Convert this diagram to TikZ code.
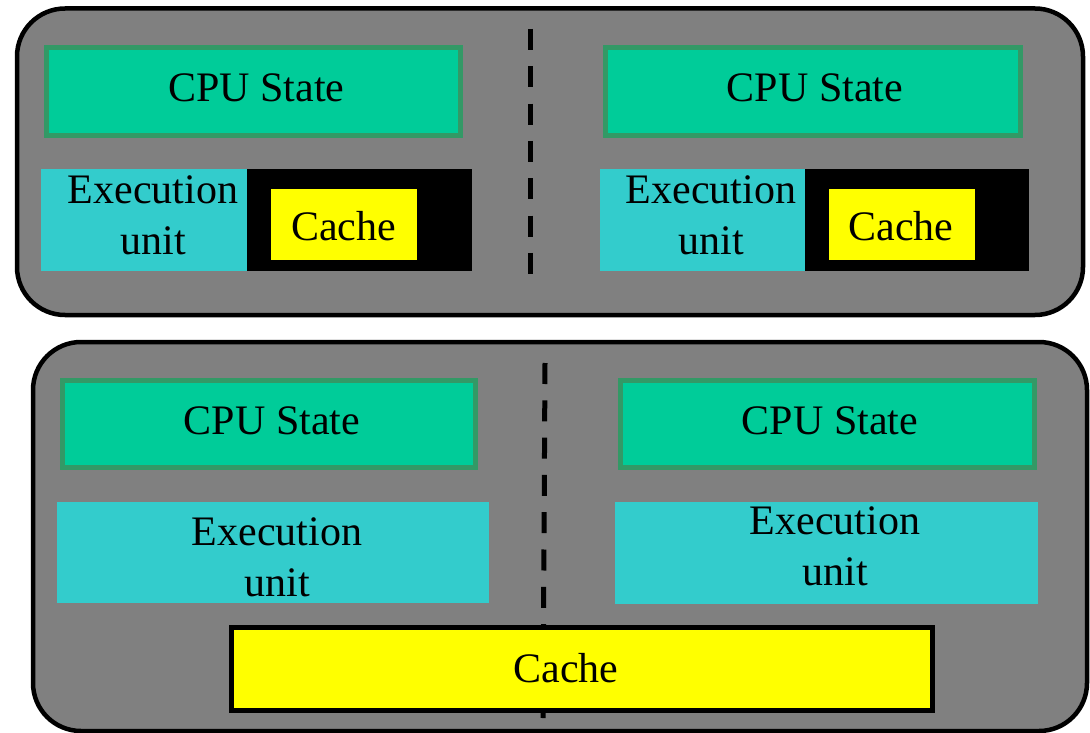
\documentclass[tikz,border=0pt]{standalone}
\usepackage{fontspec}
\setmainfont{Liberation Serif}
\definecolor{panelgray}{HTML}{808080}
\definecolor{stategreen}{HTML}{00CC99}
\definecolor{stateedge}{HTML}{339966}
\definecolor{unitcyan}{HTML}{33CCCC}
\definecolor{cacheyellow}{HTML}{FFFF00}
\begin{document}
\begin{tikzpicture}[x=1pt,y=-1pt,
  panel/.style={fill=panelgray, draw=black, line width=4.5pt, rounded corners=48pt},
  statebox/.style={fill=stategreen, draw=stateedge, line width=5pt},
  unitbox/.style={fill=unitcyan},
  cachewell/.style={fill=black},
  cachebox/.style={fill=cacheyellow},
  sharedcache/.style={fill=cacheyellow, draw=black, line width=5pt},
  divider/.style={draw=black, line width=5pt, dash pattern=on 21pt off 16.3pt},
  txt/.style={font=\fontsize{42}{51}\selectfont, inner sep=0pt, align=center, text=black}]
\useasboundingbox (0,0) rectangle (1090,733);

% ---- upper panel: two cores, each with a private cache ----
\path[panel] (17,8.5) rectangle (1083,315);
\path[divider] (530,29) -- (530,276);

\path[statebox] (46.5,47.5) rectangle (460.5,135.5);
\path[statebox] (605.5,47.5) rectangle (1020.5,135.5);

\path[unitbox] (41,169) rectangle (247,271);
\path[cachewell] (247,169) rectangle (472,271);
\path[cachebox] (271,189) rectangle (417,260);

\path[unitbox] (600,169) rectangle (805,271);
\path[cachewell] (805,169) rectangle (1029,271);
\path[cachebox] (829,189) rectangle (975,260);

\node[txt, anchor=base] (stA) at (256.5,102) {CPU State};
\node[txt, anchor=base] (stB) at (815,102) {CPU State};
\node[txt] (euA) at (153,215.5) {Execution\\unit};
\node[txt] (euB) at (711,215.5) {Execution\\unit};
\node[txt, anchor=base] (caA) at (343.5,240) {Cache};
\node[txt, anchor=base] (caB) at (901,240) {Cache};

% ---- lower panel: two cores sharing one cache ----
\path[panel] (33,342) rectangle (1087,731);
\path[divider] (545,363) -- (543,718);

\path[statebox] (62.5,380.5) rectangle (475.5,467.5);
\path[statebox] (620.5,380.5) rectangle (1034.5,467.5);

\path[unitbox] (57,502) rectangle (489,603);
\path[unitbox] (615,502) rectangle (1038,604);

\path[sharedcache] (231.5,627.5) rectangle (932.5,710.5);

\node[txt, anchor=base] (stC) at (272,434) {CPU State};
\node[txt, anchor=base] (stD) at (830,434) {CPU State};
\node[txt] (euC) at (277,557.5) {Execution\\unit};
\node[txt] (euD) at (835,546.5) {Execution\\unit};
\node[txt, anchor=base] (caC) at (566,682) {Cache};
\end{tikzpicture}
\end{document}
